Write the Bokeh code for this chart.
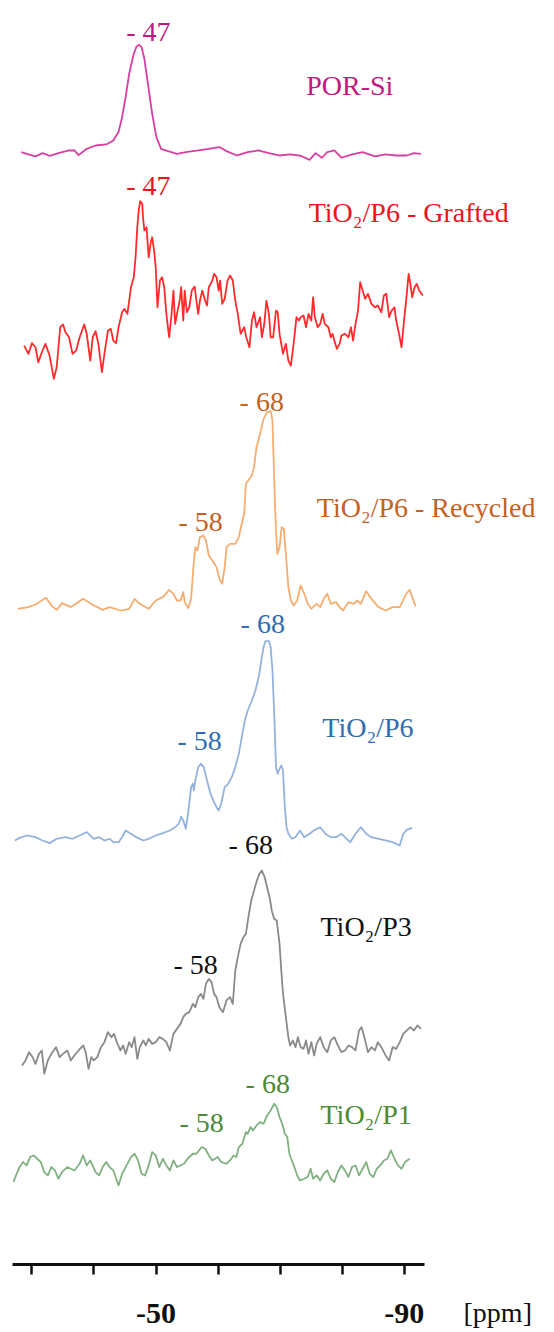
import numpy as np
from bokeh.plotting import figure
from bokeh.models import Range1d, FixedTicker, ColumnDataSource, LabelSet, Label
from bokeh.core.properties import value
from bokeh.embed import file_html
from bokeh.resources import INLINE

# 29Si solid-state NMR traces: (chemical shift in ppm, intensity in a.u.)
por_si = [(-28.29, 1.8), (-29.43, -0.7), (-30.57, -2.8), (-31.71, 0.7), (-32.85, -2.1), (-34.27, 0.7),
          (-35.98, 3.5), (-36.84, 3.5), (-37.52, -1.4), (-38.83, 5.3), (-40.26, 8.8), (-41.97, 9.9),
          (-43.11, 14.1), (-43.96, 23.0), (-44.53, 38.9), (-45.10, 60.0), (-45.67, 84.8), (-46.41, 106.0),
          (-46.87, 113.8), (-47.27, 115.5), (-47.67, 113.0), (-48.12, 100.7), (-48.69, 74.2), (-49.38, 42.4),
          (-50.06, 17.7), (-50.80, 5.3), (-51.94, 2.8), (-53.37, 0.0), (-54.79, 1.8), (-56.78, 3.5),
          (-58.50, 5.3), (-60.20, 7.1), (-61.35, 2.8), (-63.05, -1.8), (-64.76, 1.8), (-66.47, 3.5),
          (-68.18, 0.7), (-69.89, -1.8), (-71.60, -0.7), (-73.31, -2.1), (-74.74, -6.4), (-75.71, 0.7),
          (-76.73, -4.2), (-77.59, 1.8), (-78.73, 3.5), (-79.87, -4.2), (-81.58, -0.7), (-83.29, 1.8),
          (-85.28, -2.8), (-86.99, -0.7), (-88.70, -1.8), (-90.41, -1.8), (-91.55, 0.7), (-92.69, 0.0)]

p6_grafted = [(-28.75, 37.1), (-29.43, 28.3), (-30.00, 39.6), (-30.57, 35.3), (-31.03, 19.4), (-31.60, 30.0),
              (-32.17, 38.9), (-32.85, 26.5), (-33.53, 1.8), (-33.99, 14.1), (-34.56, 56.5), (-35.01, 59.4),
              (-35.41, 51.2), (-35.98, 45.9), (-36.55, 28.3), (-37.12, 31.8), (-37.69, 45.9), (-38.43, 59.4),
              (-38.83, 49.5), (-39.40, 21.2), (-39.80, 45.9), (-40.26, 52.3), (-40.71, 38.9), (-41.28, 8.8),
              (-41.68, 28.3), (-42.25, 53.0), (-42.71, 54.8), (-43.11, 42.4), (-43.56, 39.6), (-43.96, 56.5),
              (-44.53, 72.4), (-44.93, 76.0), (-45.39, 70.7), (-45.96, 98.9), (-46.41, 109.5), (-46.70, 130.7),
              (-46.98, 162.5), (-47.21, 180.2), (-47.44, 190.1), (-47.78, 187.3), (-47.90, 173.1), (-48.12, 159.0),
              (-48.47, 162.5), (-48.81, 130.7), (-49.15, 146.6), (-49.38, 151.9), (-49.72, 136.0), (-49.95, 120.1),
              (-50.23, 77.7), (-50.63, 106.0), (-50.97, 109.5), (-51.32, 98.9), (-51.66, 70.7), (-52.11, 45.9),
              (-52.51, 70.7), (-52.80, 95.4), (-53.08, 60.1), (-53.48, 74.2), (-53.82, 84.8), (-54.05, 98.9),
              (-54.39, 63.6), (-54.62, 95.4), (-54.96, 72.4), (-55.36, 77.7), (-55.76, 95.4), (-56.22, 99.6),
              (-56.50, 84.8), (-56.79, 70.7), (-57.07, 84.8), (-57.47, 95.4), (-57.81, 86.6), (-58.21, 79.5),
              (-58.50, 98.9), (-59.07, 106.0), (-59.35, 113.1), (-59.75, 109.5), (-60.09, 95.4), (-60.32, 106.0),
              (-60.66, 81.3), (-61.06, 86.6), (-61.52, 106.0), (-61.92, 111.3), (-62.37, 106.0), (-62.77, 84.8),
              (-63.17, 70.7), (-63.63, 49.5), (-64.20, 56.5), (-64.54, 45.9), (-65.05, 35.3), (-65.45, 63.6),
              (-65.79, 72.4), (-66.19, 56.5), (-66.76, 67.1), (-67.05, 45.9), (-67.44, 60.1), (-67.79, 84.8),
              (-68.19, 70.7), (-68.47, 45.9), (-68.87, 45.9), (-69.33, 74.2), (-69.61, 72.4), (-69.90, 49.5),
              (-70.46, 28.3), (-70.92, 38.9), (-71.32, 21.2), (-71.72, 15.9), (-72.17, 38.9), (-72.63, 67.1),
              (-73.03, 63.6), (-73.31, 67.1), (-73.77, 68.9), (-74.17, 56.5), (-74.57, 70.7), (-75.02, 63.6),
              (-75.31, 88.3), (-75.59, 67.1), (-76.05, 56.5), (-76.45, 60.1), (-76.85, 70.7), (-77.19, 60.1),
              (-77.76, 56.5), (-78.16, 45.9), (-78.44, 49.5), (-78.73, 42.4), (-79.13, 33.6), (-79.58, 38.9),
              (-79.87, 47.7), (-80.44, 49.5), (-81.01, 45.9), (-81.41, 56.5), (-81.75, 42.4), (-82.15, 60.1),
              (-82.55, 74.2), (-82.89, 104.2), (-83.29, 95.4), (-83.69, 86.6), (-84.14, 91.9), (-84.71, 81.3),
              (-85.28, 77.7), (-85.74, 79.5), (-86.31, 72.4), (-86.71, 90.1), (-87.11, 91.9), (-87.56, 67.1),
              (-87.96, 74.2), (-88.42, 77.7), (-88.70, 63.6), (-89.16, 49.5), (-89.56, 35.3), (-89.96, 63.6),
              (-90.30, 84.8), (-90.70, 113.1), (-90.98, 102.5), (-91.27, 88.3), (-91.67, 98.9), (-92.01, 102.5),
              (-92.41, 95.4), (-92.98, 90.1)]

p6_recycled = [(-27.72, 0.0), (-29.43, 1.8), (-30.57, 4.6), (-32.28, 11.7), (-33.13, 3.5), (-33.99, -1.1),
               (-34.84, 6.0), (-36.27, 1.8), (-38.26, 10.6), (-39.69, 4.6), (-41.40, -1.1), (-42.54, 1.8),
               (-44.25, -1.8), (-45.67, 0.0), (-46.53, 10.6), (-47.38, 5.3), (-48.81, 0.0), (-49.95, 8.8),
               (-51.09, 12.4), (-52.11, 20.1), (-52.80, 15.9), (-53.37, 8.8), (-53.94, 8.8), (-54.39, 17.7),
               (-54.62, 7.1), (-55.19, 0.7), (-55.65, 10.6), (-56.10, 51.2), (-56.33, 65.4), (-56.67, 61.8),
               (-57.07, 76.0), (-57.64, 77.7), (-58.04, 72.4), (-58.50, 56.5), (-59.07, 51.2), (-59.75, 44.2),
               (-60.21, 31.8), (-60.66, 26.5), (-61.06, 44.2), (-61.35, 65.4), (-61.92, 68.9), (-62.77, 68.9),
               (-63.34, 76.0), (-63.74, 88.3), (-64.20, 100.7), (-64.48, 132.5), (-65.05, 137.8), (-65.45, 141.3),
               (-65.79, 150.2), (-66.19, 171.4), (-66.76, 185.5), (-67.33, 201.4), (-67.90, 208.5), (-68.47, 209.5),
               (-68.76, 199.6), (-69.04, 136.0), (-69.33, 83.0), (-69.55, 58.3), (-69.90, 65.4), (-70.24, 86.6),
               (-70.58, 84.8), (-70.92, 58.3), (-71.32, 23.0), (-71.72, 8.8), (-72.17, 3.5), (-72.74, 8.8),
               (-73.31, 24.7), (-73.88, 15.9), (-74.45, 5.3), (-75.02, 0.0), (-75.88, 5.3), (-76.45, 1.8),
               (-77.02, 10.6), (-77.59, 15.9), (-78.16, 5.3), (-79.01, 7.1), (-79.58, 1.8), (-80.15, -1.8),
               (-81.01, 7.1), (-81.86, 5.3), (-82.43, 8.8), (-83.00, 5.3), (-83.86, 18.7), (-84.71, 10.6),
               (-85.85, 1.8), (-86.99, -1.8), (-88.13, 1.8), (-89.27, 1.8), (-90.30, 15.9), (-90.87, 20.1),
               (-91.27, 12.4), (-91.84, 2.5)]

p6 = [(-27.26, 0.0), (-28.00, 2.8), (-29.14, 5.3), (-30.57, 3.5), (-31.71, 0.0), (-32.85, -2.8),
      (-33.99, 1.8), (-35.41, 3.5), (-36.55, 1.8), (-37.69, 5.3), (-38.83, 8.8), (-39.97, 1.8),
      (-40.83, 3.5), (-41.68, 0.0), (-42.54, 1.8), (-43.11, -1.8), (-43.96, -1.8), (-44.53, 3.5),
      (-45.10, 10.6), (-45.96, 7.1), (-46.81, 3.5), (-47.95, 0.0), (-48.81, 1.8), (-49.95, 5.3),
      (-51.09, 7.8), (-52.23, 10.6), (-53.08, 14.1), (-53.65, 17.7), (-54.05, 25.4), (-54.39, 21.2),
      (-54.79, 12.4), (-55.19, 30.0), (-55.65, 56.5), (-55.93, 60.1), (-56.10, 53.0), (-56.33, 63.6),
      (-56.79, 77.7), (-57.24, 81.3), (-57.70, 77.7), (-58.21, 63.6), (-58.78, 49.5), (-59.35, 40.6),
      (-59.75, 35.3), (-60.09, 31.8), (-60.49, 38.9), (-61.06, 56.5), (-61.63, 60.1), (-62.20, 67.1),
      (-62.77, 77.7), (-63.34, 91.9), (-63.91, 113.1), (-64.31, 127.2), (-64.77, 137.8), (-65.45, 148.4),
      (-66.02, 159.0), (-66.59, 174.9), (-67.05, 194.3), (-67.33, 204.9), (-67.62, 211.3), (-68.19, 211.3),
      (-68.47, 204.9), (-68.76, 180.2), (-69.04, 134.3), (-69.33, 77.7), (-69.61, 70.7), (-69.90, 76.0),
      (-70.18, 79.5), (-70.46, 74.2), (-70.75, 35.3), (-71.03, 14.1), (-71.32, 7.1), (-71.89, 1.8),
      (-72.46, 3.5), (-73.20, 10.6), (-73.88, 3.5), (-74.74, 7.1), (-75.59, 11.3), (-76.45, 14.1),
      (-77.30, 7.1), (-78.16, 3.5), (-79.01, 3.5), (-79.87, 7.1), (-80.72, 1.8), (-81.29, -1.8),
      (-82.15, 7.1), (-83.00, 14.1), (-83.86, 7.1), (-84.71, 3.5), (-85.85, 1.8), (-86.99, 0.0),
      (-88.13, -1.8), (-89.27, -5.3), (-89.84, 7.1), (-90.41, 11.3), (-91.27, 13.4)]

p3 = [(-28.40, 1.8), (-28.97, 7.1), (-29.54, 15.9), (-30.11, 10.6), (-30.57, 3.5), (-31.14, 14.1),
      (-31.60, 17.7), (-31.99, -7.1), (-32.56, 7.1), (-33.13, 14.1), (-33.88, 21.2), (-34.45, 10.6),
      (-35.01, 14.1), (-35.70, 17.7), (-36.27, 7.1), (-36.84, 12.4), (-37.52, 17.7), (-38.26, 23.0),
      (-38.66, 15.9), (-39.12, -1.8), (-39.57, 10.6), (-39.97, 7.1), (-40.54, 10.6), (-41.11, 21.2),
      (-41.68, 26.5), (-42.25, 37.1), (-42.82, 31.8), (-43.22, 35.3), (-43.68, 26.5), (-44.25, 17.7),
      (-44.70, 23.0), (-45.10, 14.1), (-45.67, 26.5), (-46.07, 21.2), (-46.53, 31.8), (-46.98, 8.8),
      (-47.38, 21.2), (-47.95, 28.3), (-48.35, 23.0), (-48.81, 30.0), (-49.38, 24.7), (-49.95, 26.5),
      (-50.52, 31.8), (-51.09, 30.0), (-51.66, 26.5), (-52.23, 17.7), (-52.80, 35.3), (-53.37, 40.6),
      (-53.94, 45.9), (-54.39, 53.0), (-54.79, 56.5), (-55.36, 58.3), (-55.93, 67.1), (-56.33, 63.6),
      (-56.79, 74.2), (-57.24, 77.7), (-57.64, 72.4), (-58.04, 88.3), (-58.50, 93.6), (-58.95, 90.1),
      (-59.35, 77.7), (-59.75, 74.2), (-60.21, 63.6), (-60.78, 58.3), (-61.35, 70.7), (-61.92, 74.2),
      (-62.37, 67.1), (-62.77, 102.5), (-63.17, 116.6), (-63.63, 130.7), (-64.08, 137.8), (-64.48, 141.3),
      (-64.88, 159.0), (-65.34, 176.7), (-65.79, 187.3), (-66.25, 197.9), (-66.65, 204.9), (-67.05, 208.5),
      (-67.50, 201.4), (-67.90, 190.8), (-68.30, 180.2), (-68.64, 166.1), (-69.04, 157.2), (-69.44, 155.5),
      (-69.90, 130.7), (-70.18, 102.5), (-70.46, 77.7), (-70.92, 53.0), (-71.32, 31.8), (-71.60, 23.0),
      (-72.06, 28.3), (-72.46, 21.2), (-72.86, 31.8), (-73.31, 21.2), (-73.77, 19.4), (-74.17, 28.3),
      (-74.57, 14.1), (-75.02, 26.5), (-75.48, 12.4), (-75.88, 24.7), (-76.45, 31.8), (-77.02, 21.2),
      (-77.59, 15.9), (-78.16, 28.3), (-78.73, 31.8), (-79.30, 23.0), (-79.87, 15.9), (-80.44, 17.7),
      (-81.01, 23.0), (-81.58, 21.2), (-82.15, 17.7), (-82.72, 38.9), (-83.12, 42.4), (-83.57, 31.8),
      (-84.14, 15.9), (-84.71, 21.2), (-85.28, 17.7), (-85.74, 26.5), (-86.31, 21.2), (-86.99, 12.4),
      (-87.56, 7.1), (-88.13, 21.2), (-88.70, 19.4), (-89.27, 26.5), (-89.84, 35.3), (-90.41, 38.9),
      (-90.98, 42.4), (-91.55, 38.9), (-92.12, 44.2), (-92.69, 40.6)]

p1 = [(-27.04, 1.8), (-27.44, 8.8), (-28.00, 17.7), (-28.58, 23.0), (-29.14, 19.4), (-29.71, 28.3),
      (-30.28, 30.0), (-30.85, 26.5), (-31.42, 23.0), (-31.99, 12.4), (-32.56, 8.8), (-33.13, 17.7),
      (-33.70, 14.1), (-34.27, 5.3), (-34.84, 12.4), (-35.70, 17.7), (-36.84, 14.1), (-37.69, 21.2),
      (-38.26, 30.0), (-38.83, 19.4), (-39.40, 24.7), (-40.26, 12.4), (-40.83, 8.8), (-41.40, 17.7),
      (-41.97, 23.0), (-42.54, 17.7), (-43.11, 14.1), (-43.96, -1.8), (-44.53, 10.6), (-45.10, 17.7),
      (-45.96, 28.3), (-46.53, 31.8), (-47.10, 24.7), (-47.67, 10.6), (-48.24, 8.8), (-48.81, 19.4),
      (-49.38, 33.6), (-49.95, 30.0), (-50.52, 17.7), (-51.09, 26.5), (-51.66, 19.4), (-52.23, 14.1),
      (-52.80, 24.7), (-53.37, 17.7), (-53.94, 19.4), (-54.51, 21.2), (-55.08, 26.5), (-55.93, 31.8),
      (-56.50, 31.8), (-57.36, 38.9), (-57.93, 37.1), (-58.50, 30.0), (-59.07, 24.7), (-59.92, 28.3),
      (-60.49, 23.0), (-61.35, 21.2), (-61.92, 24.7), (-62.49, 30.0), (-62.94, 28.3), (-63.34, 38.9),
      (-63.91, 42.4), (-64.48, 54.8), (-64.77, 53.0), (-65.22, 60.1), (-65.62, 56.5), (-66.19, 61.8),
      (-66.76, 65.4), (-67.33, 63.6), (-67.90, 72.4), (-68.47, 77.7), (-69.04, 84.8), (-69.44, 81.3),
      (-69.90, 70.7), (-70.35, 63.6), (-70.75, 53.0), (-71.15, 49.5), (-71.49, 31.8), (-71.89, 24.7),
      (-72.29, 17.7), (-72.74, 8.8), (-73.20, 3.5), (-73.88, 5.3), (-74.45, 7.1), (-74.91, 15.9),
      (-75.31, 5.3), (-75.88, 8.8), (-76.45, 3.5), (-77.02, 10.6), (-77.59, 14.1), (-78.16, 5.3),
      (-78.73, 1.8), (-79.30, 12.4), (-79.87, 19.4), (-80.44, 14.1), (-81.01, 7.1), (-81.58, 17.7),
      (-82.15, 19.4), (-82.72, 8.8), (-83.29, 15.9), (-83.86, 23.0), (-84.43, 10.6), (-85.00, 7.1),
      (-85.57, 15.9), (-86.14, 19.4), (-86.71, 24.7), (-87.28, 26.5), (-87.85, 35.3), (-88.42, 26.5),
      (-88.99, 19.4), (-89.56, 15.9), (-90.13, 23.0), (-90.87, 26.5)]

sample_names = ["POR-Si", "TiO\u2082/P6 - Grafted", "TiO\u2082/P6 - Recycled",
                "TiO\u2082/P6", "TiO\u2082/P3", "TiO\u2082/P1"]
traces = [por_si, p6_grafted, p6_recycled, p6, p3, p1]
peak_shifts = [[-47], [-47], [-68, -58], [-68, -58], [-68, -58], [-68, -58]]

axis_ticks = [-30, -40, -50, -60, -70, -80, -90]
labelled_ticks = [-50, -90]
axis_span = (-93.26, -26.87)

# vertical stacking and styling of the traces (offsets in a.u.)
baselines = [1177.5, 937.1, 695.1, 449.5, 209.2, 85.6]
line_colors = ["#d83ea2", "#ff2b2b", "#f5ad72", "#93b3de", "#8a8a8a", "#80b080"]
text_colors = ["#c2177f", "#ea151c", "#c4621f", "#2f6db4", "#111111", "#4c8a36"]
name_lift = [72.4, 178.1, 107.7, 120.2, 149.4, 73.5]
name_ppm = [-74.2, -74.6, -75.9, -76.8, -76.5, -76.5]
peak_gap = {(0, -47): 13, (1, -47): 16, (2, -68): 10, (2, -58): 14, (3, -68): 18,
            (3, -58): 23, (4, -68): 26, (4, -58): 14, (5, -68): 20, (5, -58): 25}
peak_dx = {(0, -47): 11, (1, -47): 11, (2, -68): -6, (2, -58): -5, (3, -68): -5,
           (3, -58): -6, (4, -68): -17, (4, -58): -10, (5, -68): 0, (5, -58): -4}

FONT = "Liberation Serif"

p = figure(width=554, height=1332, x_range=Range1d(-24.936, -114.208), y_range=Range1d(-72.1, 1340.0),
           output_backend="svg", toolbar_location=None, y_axis_location=None, min_border=0,
           outline_line_color=None, background_fill_color="white", border_fill_color="white")
p.grid.visible = False

lbl = dict(x=[], y=[], text=[], color=[], dx=[], dy=[])
for i, tr in enumerate(traces):
    ppm = np.array([t[0] for t in tr])
    inten = np.array([t[1] for t in tr])
    p.line(ppm, inten + baselines[i], line_color=line_colors[i], line_width=1.8, line_join="round")
    for shift in peak_shifts[i]:
        near = np.abs(ppm - shift) <= 1.5
        lbl["x"].append(shift)
        lbl["y"].append(baselines[i] + inten[near].max())
        lbl["text"].append("- %d" % abs(shift))
        lbl["color"].append(text_colors[i])
        lbl["dx"].append(peak_dx[(i, shift)])
        lbl["dy"].append(peak_gap[(i, shift)])

p.add_layout(LabelSet(source=ColumnDataSource(lbl), x="x", y="y", text="text",
                      x_offset="dx", y_offset="dy", text_color="color",
                      text_font=value(FONT), text_font_size="28px",
                      text_align="center", text_baseline="middle"))

names = ColumnDataSource(dict(x=name_ppm, y=[b + l for b, l in zip(baselines, name_lift)],
                              text=sample_names, color=text_colors))
p.add_layout(LabelSet(source=names, x="x", y="y", text="text", text_color="color",
                      text_font=value(FONT), text_font_size="28px",
                      text_align="left", text_baseline="middle"))

# chemical-shift axis drawn inside the frame at zero intensity
ax = p.xaxis[0]
ax.fixed_location = 0
ax.bounds = axis_span
ax.ticker = FixedTicker(ticks=axis_ticks)
ax.major_label_overrides = {t: (str(t) if t in labelled_ticks else "") for t in axis_ticks}
ax.axis_line_width = 3
ax.axis_line_color = "#111111"
ax.major_tick_line_width = 2.5
ax.major_tick_line_color = "#111111"
ax.major_tick_in = 0
ax.major_tick_out = 10
ax.minor_tick_line_color = None
ax.major_label_text_font = FONT
ax.major_label_text_font_style = "bold"
ax.major_label_text_font_size = "30px"
ax.major_label_text_color = "#111111"
ax.major_label_standoff = 30

p.add_layout(Label(x=-99.55, y=-51, text="[ppm]", text_font=FONT, text_font_size="28px",
                   text_color="#111111", text_align="left", text_baseline="middle"))

open("out.html", "w").write(file_html(p, INLINE))
